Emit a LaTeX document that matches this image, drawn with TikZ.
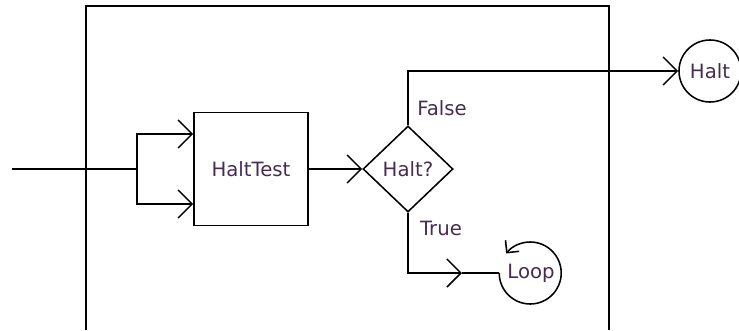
\documentclass[tikz,border=0pt]{standalone}
\usepackage{fontspec}
\setmainfont{DejaVu Sans}
\usetikzlibrary{arrows.meta,shapes.geometric}
\definecolor{labelcol}{RGB}{70,45,80}
\begin{document}
\begin{tikzpicture}[x=0.025cm,y=-0.025cm,line width=1.1pt,
	every node/.style={text=labelcol,font=\fontsize{14}{16}\selectfont},
	arr/.style={-{Straight Barb[length=3.5mm,width=7mm]}},
	smallarr/.style={-{Straight Barb[length=2.2mm,width=4.4mm]}},
	block/.style={draw,minimum width=2.85cm,minimum height=2.825cm,inner sep=0pt},
	decision/.style={draw,diamond,minimum width=2.25cm,minimum height=2.15cm,inner sep=0pt},
	terminal/.style={circle,minimum size=1.55cm,inner sep=0pt}]
	\useasboundingbox (0,0) rectangle (739,330);
	\draw (86,330) -- (86,6) -- (609,6) -- (609,330);
	\coordinate (start) at (12,169);
	\coordinate (fork) at (137,169);
	\node[block] (test) at (251,169) {HaltTest};
	\node[decision] (ask) at (408,169) {Halt?};
	\node[terminal,draw] (halt) at (710,71) {Halt};
	\node[terminal] (loop) at (531,273) {Loop};
	\coordinate (mid) at (462,273);
	\node (false) at (442,108) {False};
	\node (true) at (441,228) {True};
	\draw (start) -- (fork);
	\draw[arr] (fork) |- ([yshift=0.875cm]test.west);
	\draw[arr] (fork) |- ([yshift=-0.875cm]test.west);
	\draw[arr] (test) -- (ask);
	\draw[arr] (ask.north) |- (halt);
	\draw[arr] (ask.south) |- (mid);
	\draw (mid) -- (loop.west);
	\draw[smallarr] (loop.west) arc[start angle=180,end angle=-141,radius=31];
\end{tikzpicture}
\end{document}
